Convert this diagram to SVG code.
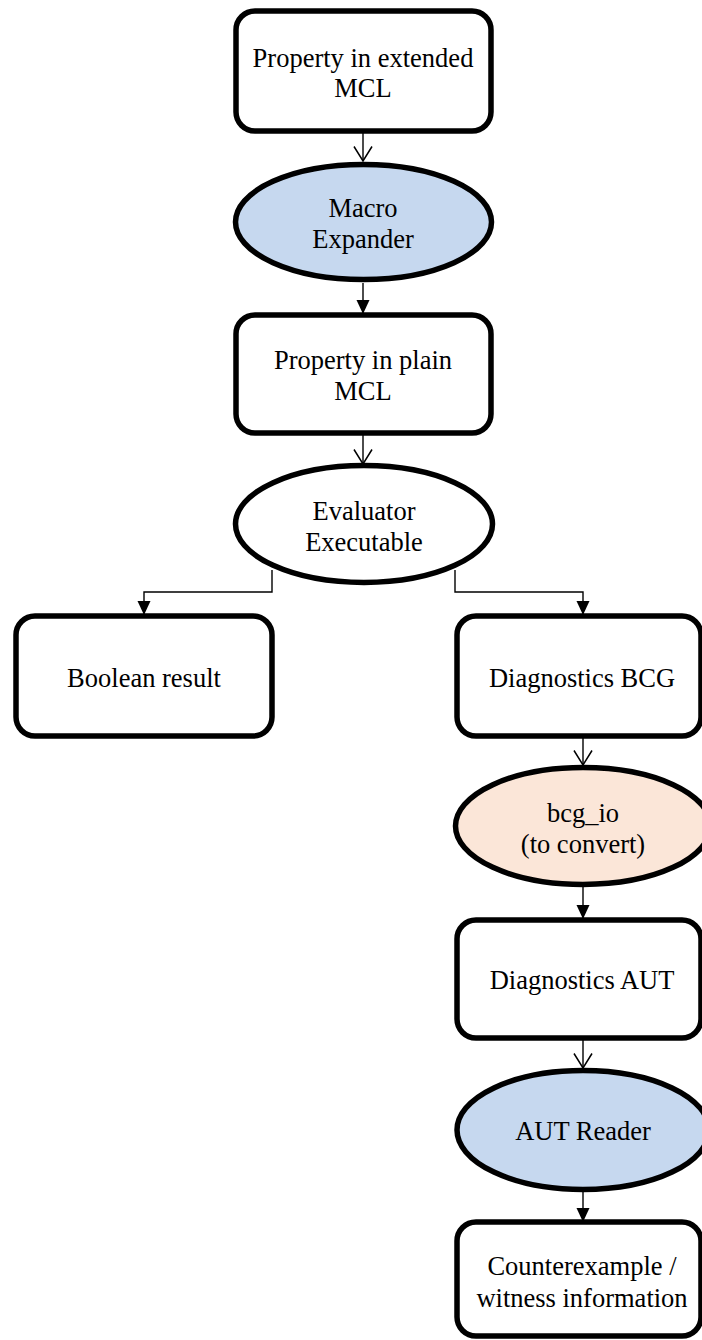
<svg xmlns="http://www.w3.org/2000/svg" width="702" height="1340" viewBox="0 0 702 1340">
  <defs>
    <style>
      .box { fill: #ffffff; stroke: #000000; stroke-width: 5.5; }
      .proc { stroke: #000000; stroke-width: 5.5; }
      .blue { fill: #c6d8ef; }
      .peach { fill: #fbe6d8; }
      .white { fill: #ffffff; }
      .lbl { font-family: "Liberation Serif", "Times New Roman", serif; font-size: 26.5px; fill: #000000; text-anchor: middle; }
      .edge { fill: none; stroke: #000000; stroke-width: 1.4; }
    </style>
    <!-- open V arrowhead -->
    <marker id="open" viewBox="0 0 16 20" refX="15" refY="10" markerWidth="16" markerHeight="20" markerUnits="userSpaceOnUse" orient="auto">
      <path d="M0.5,1 L15,10 L0.5,19" fill="none" stroke="#000000" stroke-width="1.5"/>
    </marker>
    <!-- filled triangle arrowhead -->
    <marker id="solid" viewBox="0 0 14 14" refX="13" refY="7" markerWidth="14" markerHeight="14" markerUnits="userSpaceOnUse" orient="auto">
      <path d="M0,0.5 L14,7 L0,13.5 Z" fill="#000000"/>
    </marker>
  </defs>

  <rect width="702" height="1340" fill="#ffffff"/>

  <!-- connectors -->
  <g id="connectors">
    <path class="edge" d="M363,133 L363,161" marker-end="url(#open)"/>
    <path class="edge" d="M363,283 L363,313" marker-end="url(#solid)"/>
    <path class="edge" d="M363,435 L363,464" marker-end="url(#open)"/>
    <path class="edge" d="M272,570 L272,592 L144,592 L144,614" marker-end="url(#solid)"/>
    <path class="edge" d="M455,570 L455,592 L583,592 L583,614" marker-end="url(#solid)"/>
    <path class="edge" d="M583,738 L583,765" marker-end="url(#open)"/>
    <path class="edge" d="M583,887 L583,918" marker-end="url(#solid)"/>
    <path class="edge" d="M583,1040 L583,1068" marker-end="url(#open)"/>
    <path class="edge" d="M583,1192 L583,1221" marker-end="url(#solid)"/>
  </g>

  <g id="n-extended">
    <rect class="box" x="236" y="11" width="255" height="120" rx="19"/>
    <text class="lbl" x="363" y="67">Property in extended</text>
    <text class="lbl" x="363" y="97">MCL</text>
  </g>

  <g id="n-macro">
    <ellipse class="proc blue" cx="363.5" cy="222" rx="128" ry="57.5"/>
    <text class="lbl" x="363" y="217">Macro</text>
    <text class="lbl" x="363" y="248">Expander</text>
  </g>

  <g id="n-plain">
    <rect class="box" x="236" y="315" width="255" height="118" rx="19"/>
    <text class="lbl" x="363" y="369">Property in plain</text>
    <text class="lbl" x="363" y="400">MCL</text>
  </g>

  <g id="n-evaluator">
    <ellipse class="proc white" cx="364" cy="524" rx="128.5" ry="58.5"/>
    <text class="lbl" x="364" y="520">Evaluator</text>
    <text class="lbl" x="364" y="551">Executable</text>
  </g>

  <g id="n-boolean">
    <rect class="box" x="16" y="616" width="256" height="120" rx="19"/>
    <text class="lbl" x="144" y="687">Boolean result</text>
  </g>

  <g id="n-bcg">
    <rect class="box" x="457" y="616" width="244" height="120" rx="19"/>
    <text class="lbl" x="582" y="687">Diagnostics BCG</text>
  </g>

  <g id="n-bcgio">
    <ellipse class="proc peach" cx="583" cy="826" rx="127.5" ry="58.5"/>
    <text class="lbl" x="583" y="822">bcg_io</text>
    <text class="lbl" x="583" y="853">(to convert)</text>
  </g>

  <g id="n-aut">
    <rect class="box" x="457" y="920" width="244" height="118" rx="19"/>
    <text class="lbl" x="582" y="989">Diagnostics AUT</text>
  </g>

  <g id="n-reader">
    <ellipse class="proc blue" cx="583" cy="1130" rx="126" ry="59.5"/>
    <text class="lbl" x="583" y="1140">AUT Reader</text>
  </g>

  <g id="n-counter">
    <rect class="box" x="457" y="1222" width="244" height="114" rx="19"/>
    <text class="lbl" x="582" y="1275">Counterexample /</text>
    <text class="lbl" x="582" y="1307">witness information</text>
  </g>
</svg>
